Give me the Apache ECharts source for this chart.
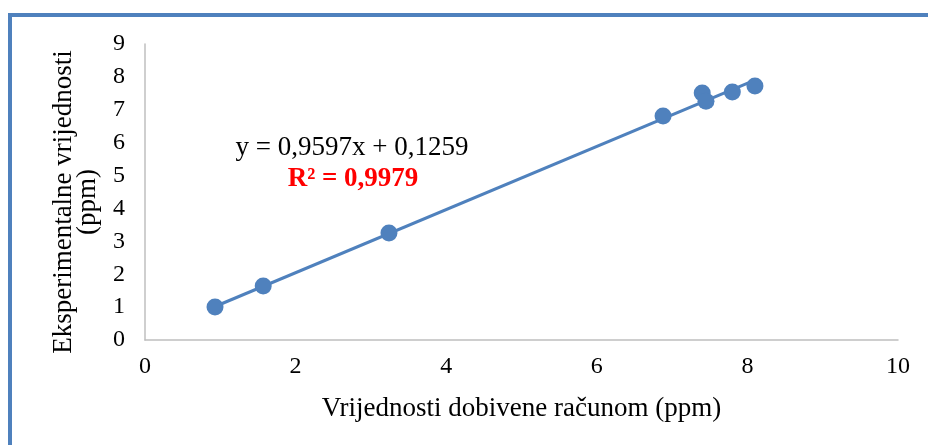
<!DOCTYPE html>
<html>
<head>
<meta charset="utf-8">
<script src="https://cdn.jsdelivr.net/npm/echarts@6/dist/echarts.min.js"></script>
<style>html,body{margin:0;padding:0;background:#fff}#c{width:928px;height:445px}</style>
</head>
<body>
<div id="c"></div>
<script>
const xValues = [0.93, 1.57, 3.24, 6.88, 7.40, 7.45, 7.80, 8.10];
const yValues = [1.00, 1.64, 3.25, 6.81, 7.51, 7.26, 7.54, 7.72];
const slope = 0.9597;
const intercept = 0.1259;
const equationText = 'y = 0,9597x + 0,1259';
const r2Text = 'R² = 0,9979';
const xTitle = 'Vrijednosti dobivene računom (ppm)';
const yTitle = 'Eksperimentalne vrijednosti\n(ppm)';

const points = xValues.map((x, i) => [x, yValues[i]]);
const xMin = Math.min(...xValues), xMax = Math.max(...xValues);
const trend = [[xMin, slope * xMin + intercept], [xMax, slope * xMax + intercept]];

const font = '"Liberation Serif", "Times New Roman", serif';
const blue = '#4f81bd';
const chart = echarts.init(document.getElementById('c'));
chart.setOption({
  animation: false,
  grid: { left: 145, right: 30, top: 44, bottom: 105 },
  xAxis: {
    type: 'value', min: 0, max: 10, interval: 2,
    name: xTitle, nameLocation: 'middle', nameGap: 55,
    nameTextStyle: { fontFamily: font, fontSize: 27, color: '#000' },
    axisLine: { show: true, lineStyle: { color: '#bfbfbf', width: 1.5 } },
    axisTick: { show: false },
    splitLine: { show: false },
    axisLabel: { fontFamily: font, fontSize: 24, color: '#000', margin: 15 }
  },
  yAxis: {
    type: 'value', min: 0, max: 9, interval: 1,
    name: yTitle, nameLocation: 'middle', nameGap: 45, nameRotate: 90,
    nameTextStyle: { fontFamily: font, fontSize: 27, color: '#000', lineHeight: 24, align: 'center', padding: [0, 20, 0, 0] },
    axisLine: { show: true, lineStyle: { color: '#bfbfbf', width: 1.5 } },
    axisTick: { show: false },
    splitLine: { show: false },
    axisLabel: { fontFamily: font, fontSize: 24, color: '#000', margin: 20 }
  },
  series: [
    {
      type: 'line', data: trend, symbol: 'none', silent: true,
      lineStyle: { color: blue, width: 3 }, z: 1
    },
    {
      type: 'scatter', data: points, symbolSize: 17,
      itemStyle: { color: blue, opacity: 1 }, z: 2
    }
  ],
  graphic: [
    { type: 'rect', shape: { x: 8, y: 13, width: 930, height: 4 }, style: { fill: blue } },
    { type: 'rect', shape: { x: 8, y: 13, width: 4, height: 440 }, style: { fill: blue } },
    { type: 'text', x: 352, y: 148, style: { text: equationText, font: '27px ' + font, fill: '#000', align: 'center', verticalAlign: 'middle' } },
    { type: 'text', x: 353, y: 179, style: { text: r2Text, font: 'bold 27px ' + font, fill: '#ff0000', align: 'center', verticalAlign: 'middle' } }
  ]
});
</script>
</body>
</html>
